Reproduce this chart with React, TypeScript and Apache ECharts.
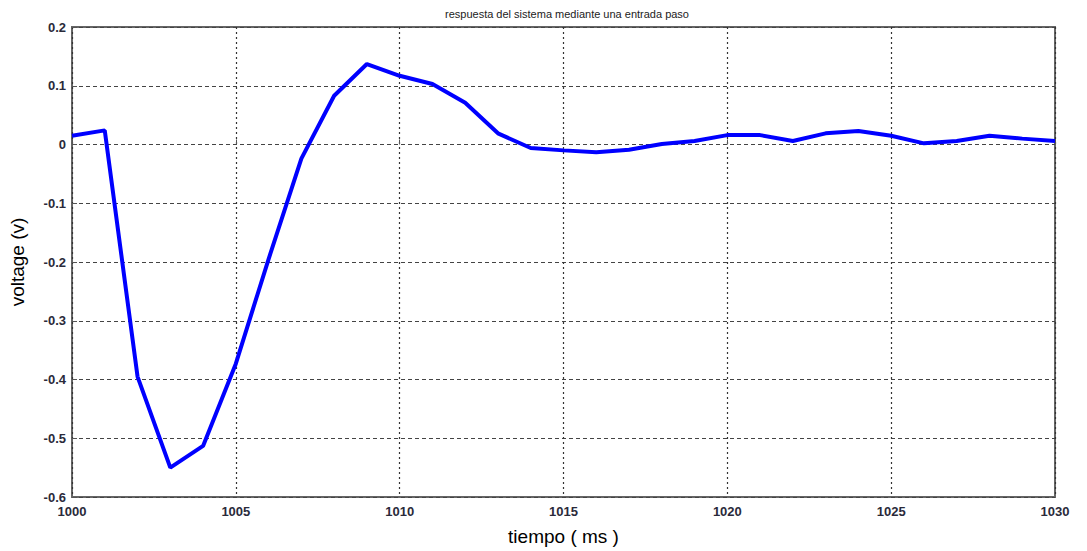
import React, { useEffect, useRef } from "react";
import * as echarts from "echarts";

const timeMs = [1000, 1001, 1002, 1003, 1004, 1005, 1006, 1007, 1008, 1009, 1010, 1011, 1012, 1013, 1014, 1015, 1016, 1017, 1018, 1019, 1020, 1021, 1022, 1023, 1024, 1025, 1026, 1027, 1028, 1029, 1030];
const voltage = [0.015, 0.024, -0.395, -0.55, -0.513, -0.373, -0.195, -0.024, 0.083, 0.137, 0.117, 0.103, 0.071, 0.019, -0.006, -0.01, -0.013, -0.009, 0.001, 0.006, 0.016, 0.016, 0.006, 0.019, 0.023, 0.015, 0.002, 0.006, 0.015, 0.01, 0.006];

const titleText = "respuesta del sistema mediante una entrada paso";
const xName = "tiempo ( ms )";
const yName = "voltage (v)";

export default function App() {
  const ref = useRef<HTMLDivElement>(null);
  useEffect(() => {
    if (!ref.current) return;
    const chart = echarts.init(ref.current, undefined, { renderer: "svg", width: 1087, height: 551 });
    const data = timeMs.map((t, i) => [t, voltage[i]]);
    const labelStyle = {
      color: "#2a2a3a",
      fontSize: 13,
      fontWeight: "bold" as const,
      fontFamily: "Liberation Sans, Arial, sans-serif",
    };
    chart.setOption({
      animation: false,
      backgroundColor: "#ffffff",
      title: {
        text: titleText,
        left: 562,
        textAlign: "center",
        top: 3,
        textStyle: { fontSize: 11, fontWeight: "normal", color: "#222", fontFamily: "Liberation Sans, Arial, sans-serif" },
      },
      grid: {
        left: 69,
        right: 32,
        top: 27,
        bottom: 50,
        show: true,
        borderColor: "#666",
        borderWidth: 2,
        containLabel: false,
      },
      xAxis: {
        type: "value",
        min: 1000,
        max: 1030,
        interval: 5,
        name: xName,
        nameLocation: "middle",
        nameGap: 30,
        nameTextStyle: { fontSize: 19, color: "#000", fontFamily: "Liberation Sans, Arial, sans-serif" },
        axisLine: { show: false },
        axisTick: { show: true, inside: true, length: 5, lineStyle: { color: "#555" } },
        axisLabel: { ...labelStyle, margin: 8, formatter: (v: number) => String(v) },
        splitLine: { show: true, lineStyle: { color: "#333", type: [2, 3], width: 1.2 } },
      },
      yAxis: {
        type: "value",
        min: -0.6,
        max: 0.2,
        interval: 0.1,
        name: yName,
        nameLocation: "middle",
        nameGap: 45,
        nameRotate: 90,
        nameTextStyle: { fontSize: 19, color: "#000", fontFamily: "Liberation Sans, Arial, sans-serif" },
        axisLine: { show: false },
        axisTick: { show: true, inside: true, length: 5, lineStyle: { color: "#555" } },
        axisLabel: {
          ...labelStyle,
          margin: 6,
          formatter: (v: number) => (Math.abs(v) < 1e-9 ? "0" : String(+v.toFixed(1))),
        },
        splitLine: { show: true, lineStyle: { color: "#444", type: [4, 3], width: 1.2 } },
      },
      series: [
        {
          type: "line",
          data,
          symbol: "none",
          lineStyle: { color: "#0000ff", width: 4 },
          z: 5,
        },
      ],
    });
    return () => chart.dispose();
  }, []);
  return <div ref={ref} style={{ width: 1087, height: 551, position: "absolute", left: 0, top: 0 }} />;
}
